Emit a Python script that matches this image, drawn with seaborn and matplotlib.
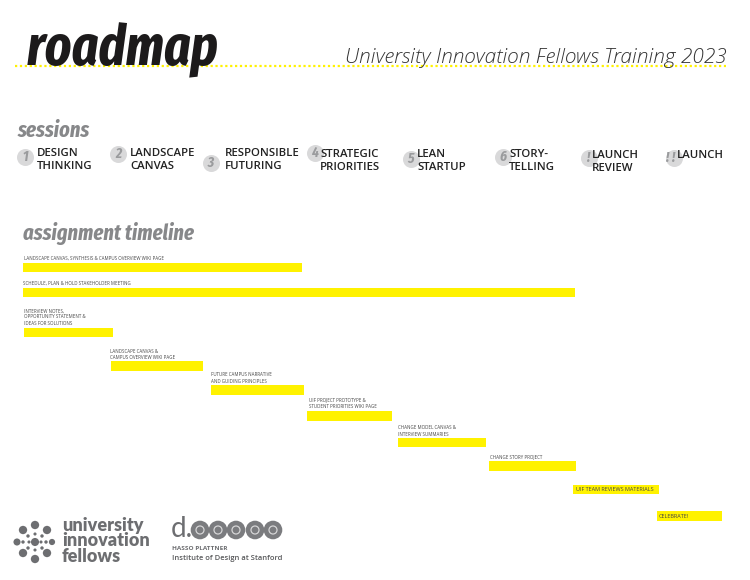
import warnings
import pandas as pd
import matplotlib
matplotlib.use("Agg")
import matplotlib.pyplot as plt
from matplotlib.patches import Circle
import seaborn as sns

warnings.filterwarnings("ignore")

# timeline bars, in page pixels
task_labels = [
    "LANDSCAPE CANVAS, SYNTHESIS & CAMPUS OVERVIEW WIKI PAGE",
    "SCHEDULE, PLAN & HOLD STAKEHOLDER MEETING",
    "INTERVIEW NOTES,\nOPPORTUNITY STATEMENT &\nIDEAS FOR SOLUTIONS",
    "LANDSCAPE CANVAS &\nCAMPUS OVERVIEW WIKI PAGE",
    "FUTURE CAMPUS NARRATIVE\nAND GUIDING PRINCIPLES",
    "UIF PROJECT PROTOTYPE &\nSTUDENT PRIORITIES WIKI PAGE",
    "CHANGE MODEL CANVAS &\nINTERVIEW SUMMARIES",
    "CHANGE STORY PROJECT",
    "UIF TEAM REVIEWS MATERIALS",
    "CELEBRATE!",
]
task_start = [23, 22.5, 23.5, 110.5, 211, 307, 398, 488.5, 572.5, 656.5]
task_end = [302, 575, 112.5, 203, 303.5, 392, 486, 576, 659, 722]
task_row = [267.5, 292.7, 332.3, 366, 390, 416, 442.7, 466, 489.3, 516]

session_marks = ["1", "2", "3", "4", "5", "6", "!", "!\u2009!"]
session_names = ["DESIGN\nTHINKING", "LANDSCAPE\nCANVAS", "RESPONSIBLE\nFUTURING",
                 "STRATEGIC\nPRIORITIES", "LEAN\nSTARTUP", "STORY-\nTELLING",
                 "LAUNCH\nREVIEW", "LAUNCH"]
session_x = [25, 118, 211, 315, 411, 503, 589, 674]
session_y = [157, 154, 163, 153, 159, 157, 158, 158]
name_x = [37, 130, 225, 320, 417, 509, 592, 677]
name_y = [160, 160, 160, 161, 161, 161, 162, 155]

YELLOW = "#fff200"
GREY = "#87888a"
HEAD = ["Fira Sans Extra Condensed", "Roboto Condensed", "DejaVu Sans"]
BODY = ["Open Sans", "DejaVu Sans"]

sns.set_theme(style="white")
plt.rcParams["font.family"] = BODY

fig = plt.figure(figsize=(7.5, 5.8), dpi=100)
ax = fig.add_axes([0, 0, 1, 1])

df = pd.DataFrame({"row": task_row, "start": task_start, "end": task_end})
df["length"] = df["end"] - df["start"]
sns.barplot(data=df, x="length", y="row", orient="y", native_scale=True,
            left=df["start"].values, width=0.39, color=YELLOW, saturation=1,
            linewidth=0, ax=ax)

# session badges
sns.scatterplot(x=session_x, y=session_y, s=150, color="#d9d9da", linewidth=0, ax=ax)

ax.set_xlim(0, 750)
ax.set_ylim(580, 0)
ax.axis("off")

# header
ax.text(27, 65, "roadmap", fontsize=40, family=HEAD, weight="bold", style="italic",
        color="#1c1a1b", va="baseline", ha="left")
ax.plot([15, 726], [66, 66], color=YELLOW, lw=1.6, ls=(0, (1, 1.2)))
ax.text(727, 58, "University Innovation Fellows Training 2023", fontsize=15, style="italic",
        weight="light", color="#333333", ha="right", va="center")

# section headings
ax.text(18, 137, "sessions", fontsize=16, family=HEAD, weight="bold", style="italic",
        color=GREY, va="baseline")
ax.text(23, 240, "assignment timeline", fontsize=16, family=HEAD, weight="bold", style="italic",
        color=GREY, va="baseline")

# sessions
for mark, x, y in zip(session_marks, session_x, session_y):
    if len(mark) > 1:
        x = x - 3
    ax.text(x, y, mark, fontsize=10.5, family=HEAD, weight="bold", style="italic",
            color="#9a9b9d", ha="center", va="center")
for name, x, y in zip(session_names, name_x, name_y):
    ax.text(x, y, name, fontsize=8.2, weight="semibold", color="#222222",
            va="center", linespacing=1.25)

# labels over the bars
label_x = [24, 23, 23.5, 110.5, 211, 309, 398, 489.5, 576, 659]
label_y = [258.7, 283, 317, 354.5, 378, 403, 431, 457, 489.5, 516.5]
for i, (text, x, y) in enumerate(zip(task_labels, label_x, label_y)):
    ax.text(x, y, text, fontsize=4.0 if i >= 8 else 3.25, weight="normal", color="#444444",
            va="center", linespacing=1.3)

# fellows logo
hub_x, hub_y = 35, 542
dots_x = [0, 0, 0, -7, 7, -7, 7, -12, 12, -18, 17, -12, 12, -12, 11, -6, 6, 0, 0]
dots_y = [0, -17, 17, -6, -6, 6, 6, -12, -12, 0, 0, 11, 11, 0, 0, 0, 0, -8, 8]
dots_s = [34, 36, 36, 6, 6, 6, 6, 36, 36, 26, 20, 36, 36, 6, 6, 5, 5, 5, 5]
ax.scatter([hub_x + v for v in dots_x], [hub_y + v for v in dots_y], s=dots_s,
           color="#6d6e71", linewidth=0)
ax.text(62, 541, "university\ninnovation\nfellows", fontsize=13, weight="heavy",
        family=["Lato", "DejaVu Sans"], color="#6d6e71", va="center", linespacing=0.92)

# d.school logo
ax.text(171, 529, "d.", fontsize=20, weight="normal", family=["Lato", "DejaVu Sans"],
        color="#6d6e71", va="center")
for cx in [200, 218, 236, 255, 273]:
    ax.add_patch(Circle((cx, 530), 9.3, color="#7b7c7f", lw=0))
    ax.add_patch(Circle((cx, 530), 4, fill=False, ec="#d5d5d6", lw=0.9))
ax.text(172, 549, "HASSO PLATTNER", fontsize=4.6, weight="bold", color="#6d6e71", va="center")
ax.text(172, 559, "Institute of Design at Stanford", fontsize=5.4, weight="semibold",
        color="#58595b", va="center")

fig.savefig("out.png", dpi=100)
